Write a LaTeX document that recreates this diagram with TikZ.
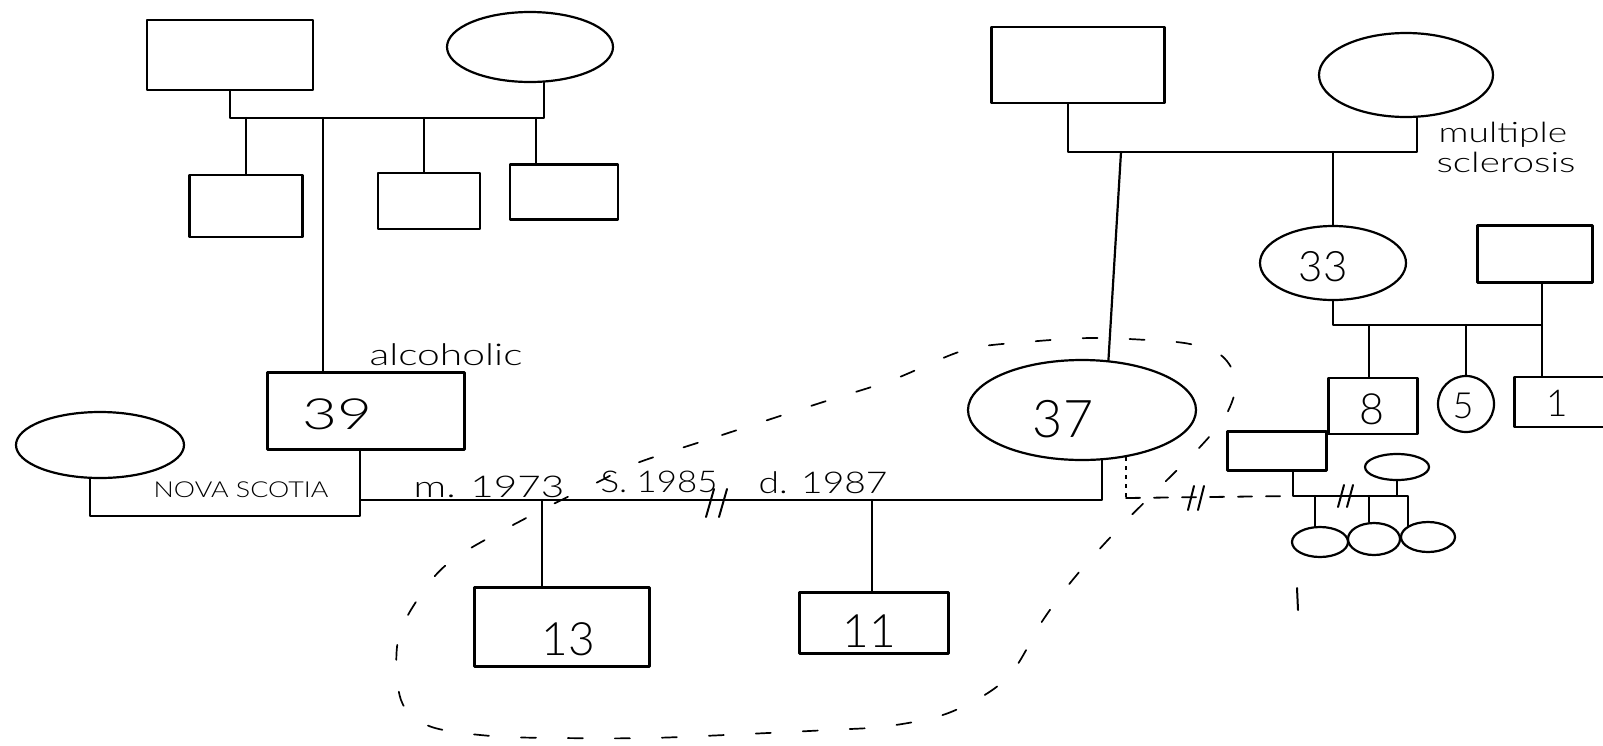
\documentclass[tikz,border=0pt]{standalone}
\usepackage{fontspec}
\setmainfont{Lato Light}
\usetikzlibrary{shapes.geometric,calc}
\begin{document}
\begin{tikzpicture}[x=1pt,y=-1pt,
  ink/.style={line width=2.2pt, line cap=round, line join=round},
  box/.style={ink, draw, rectangle, inner sep=0pt},
  oval/.style={ink, draw, ellipse, inner sep=0pt},
  link/.style={ink},
  num/.style={inner sep=0pt, font=\fontsize{#1}{#1}\selectfont},
  note/.style={inner sep=0pt, anchor=base, font=\fontsize{#1}{#1}\selectfont},
  slash/.style={line width=2pt, line cap=round},
  ring/.style={line width=1.7pt, line cap=round, dash pattern=on 15pt off 32pt},
  faint/.style={line width=1.8pt, line cap=round, dash pattern=on 14pt off 14pt}
]
\fill[white] (0,0) rectangle (1603,745);
\useasboundingbox (0,0) rectangle (1603,745);
\clip (0,0) rectangle (1603,745);

% ---- paternal side (left) ----
\node[box, minimum width=166pt, minimum height=70pt] (lgf) at (230,55) {};
\node[oval, minimum width=166pt, minimum height=70pt] (lgm) at (530,47) {};
\node[box, minimum width=113pt, minimum height=62pt] (ls1) at (246,206) {};
\node[box, minimum width=102pt, minimum height=56pt] (ls2) at (429,201) {};
\node[box, minimum width=108pt, minimum height=55pt] (ls3) at (564,192) {};
\node[box, minimum width=197pt, minimum height=77pt] (p39) at (366,411) {};
\node[oval, minimum width=168pt, minimum height=66pt] (lw) at (100,445) {};
\node[box, minimum width=175pt, minimum height=79pt] (c13) at (562,627) {};
\node[box, minimum width=149pt, minimum height=61pt] (c11) at (874,623) {};

% ---- maternal side (right) ----
\node[box, minimum width=173pt, minimum height=76pt] (rgf) at (1078,65) {};
\node[oval, minimum width=174pt, minimum height=84pt] (rgm) at (1406,75) {};
\node[oval, minimum width=228pt, minimum height=100pt] (p37) at (1082,410) {};
\node[oval, minimum width=146pt, minimum height=74pt] (p33) at (1333,263) {};
\node[box, minimum width=115pt, minimum height=57pt] (h33) at (1535,254) {};
\node[box, minimum width=89pt, minimum height=56pt] (c8) at (1373,406) {};
\node[oval, minimum width=56pt, minimum height=56pt] (c5) at (1466,404) {};
\node[box, minimum width=105pt, minimum height=50pt] (c1) at (1567,402) {};

% ---- new partner's household ----
\node[box, minimum width=99pt, minimum height=39pt] (nrect) at (1277,451) {};
\node[oval, minimum width=64pt, minimum height=26pt] (nell) at (1397,467) {};
\node[oval, minimum width=56pt, minimum height=30pt] (k1) at (1320,542) {};
\node[oval, minimum width=52pt, minimum height=32pt] (k2) at (1374,539) {};
\node[oval, minimum width=54pt, minimum height=30pt] (k3) at (1428,537) {};

% ---- ages ----
\node[num=43] (t39) at (337,414) {\scalebox{1.4}[1]{39}};
\node[num=52] (t37) at (1063,419) {37};
\node[num=46] (t13) at (568,639) {13};
\node[num=46] (t11) at (869,631) {11};
\node[num=42] (t33) at (1323,267) {33};
\node[num=43] (t8) at (1372,409) {8};
\node[num=36] (t5) at (1463,406) {5};
\node[num=37] (t1) at (1557,403) {1};

% ---- notes ----
\node[note=30] (alc) at (446,365) {\scalebox{1.36}[1]{alcoholic}};
\node[note=22] (ns) at (241,497) {\scalebox{1.22}[1]{NOVA SCOTIA}};
\node[note=30] (mar) at (489,497) {\scalebox{1.35}[1]{m. 1973}};
\node[note=30] (sep) at (659,492) {\scalebox{1.16}[1]{S. 1985}};
\node[note=30] (div) at (823,493) {\scalebox{1.24}[1]{d. 1987}};
\node[note=28] (ms1) at (1503,142) {\scalebox{1.33}[1]{multiple}};
\node[note=28] (ms2) at (1506,172) {\scalebox{1.38}[1]{sclerosis}};

% ---- paternal sibship ----
\coordinate (lbar) at (0,118);
\draw[link] (lgf.south) |- (lgm.-69 |- lbar) -- (lgm.-69);
\draw[link] (ls1.north) -- (ls1.north |- lbar);
\draw[link] (323,0 |- p39.north) -- (323,0 |- lbar);
\draw[link] (424,0 |- ls2.north) -- (424,0 |- lbar);
\draw[link] (536,0 |- ls3.north) -- (536,0 |- lbar);

% ---- marriage 39 / 37 and their children ----
\coordinate (mbar) at (0,500);
\draw[link] (p39.south -| 360,0) -- (360,0 |- mbar) -- (p37.-68 |- mbar) -- (p37.-68);
\coordinate (wbar) at (0,516);
\draw[link] (lw.-107) |- (360,0 |- wbar) -- (360,0 |- mbar);
\draw[link] (542,0 |- mbar) -- (542,0 |- c13.north);
\draw[link] (872,0 |- mbar) -- (872,0 |- c11.north);
\coordinate (cut1) at (718,503);
\draw[slash] ($(cut1)+(-12,14)$) -- ++(8,-28) ($(cut1)+(1,14)$) -- ++(8,-28);

% ---- maternal sibship ----
\coordinate (rbar) at (0,152);
\draw[link] (1068,0 |- rgf.south) |- (rgm.-76 |- rbar) -- (rgm.-76);
\draw[link] (1121,0 |- rbar) -- (p37.62);
\draw[link] (p33.north) -- (p33.north |- rbar);

% ---- 33's family ----
\coordinate (sbar) at (0,325);
\draw[link] (p33.south) |- (1542,0 |- sbar) -- (1542,0 |- h33.south);
\draw[link] (1369,0 |- sbar) -- (1369,0 |- c8.north);
\draw[link] (c5.north) -- (c5.north |- sbar);
\draw[link] (1542,0 |- sbar) -- (1542,0 |- c1.north);

% ---- new household ----
\coordinate (nbar) at (0,496);
\draw[link] (1293,0 |- nrect.south) -- (1293,0 |- nbar) -- (k3.north west |- nbar) -- (k3.north west);
\draw[link] (nell.south) -- (nell.south |- nbar);
\draw[link] (1315,0 |- nbar) -- (1315,0 |- k1.north);
\draw[link] (1369,0 |- nbar) -- (1369,0 |- k2.north);
\coordinate (cut2) at (1347,496);
\draw[slash] ($(cut2)+(-9,11)$) -- ++(6,-22) ($(cut2)+(0,11)$) -- ++(6,-22);

% ---- 37's new relationship ----
\coordinate (cbar) at (0,498);
\draw[line width=1.6pt, dash pattern=on 4pt off 5pt] (p37.-47) -- (p37.-47 |- cbar);
\draw[faint] (p37.-47 |- cbar) -- (1293,0 |- nbar);
\coordinate (cut3) at (1197,498);
\draw[slash] ($(cut3)+(-9,12)$) -- ++(6,-24) ($(cut3)+(1,12)$) -- ++(6,-24);

% ---- household boundary ----
\draw[ring] plot[smooth cycle, tension=0.55] coordinates {
  (637,463) (722,435) (820,403) (892,380) (965,350) (1027,342) (1090,338)
  (1147,340) (1190,344) (1222,356) (1236,382) (1226,415) (1200,447)
  (1165,482) (1120,527) (1075,577) (1043,620) (1007,678) (951,712)
  (889,726) (828,730) (746,734) (650,738) (562,738) (491,736) (429,726)
  (401,700) (398,640) (422,593) (455,558) (530,516) (598,482)};

% stray pen mark
\coordinate (pen) at (1297,588);
\draw[line width=2pt, line cap=round] (pen) -- ++(1,22);
\end{tikzpicture}
\end{document}
